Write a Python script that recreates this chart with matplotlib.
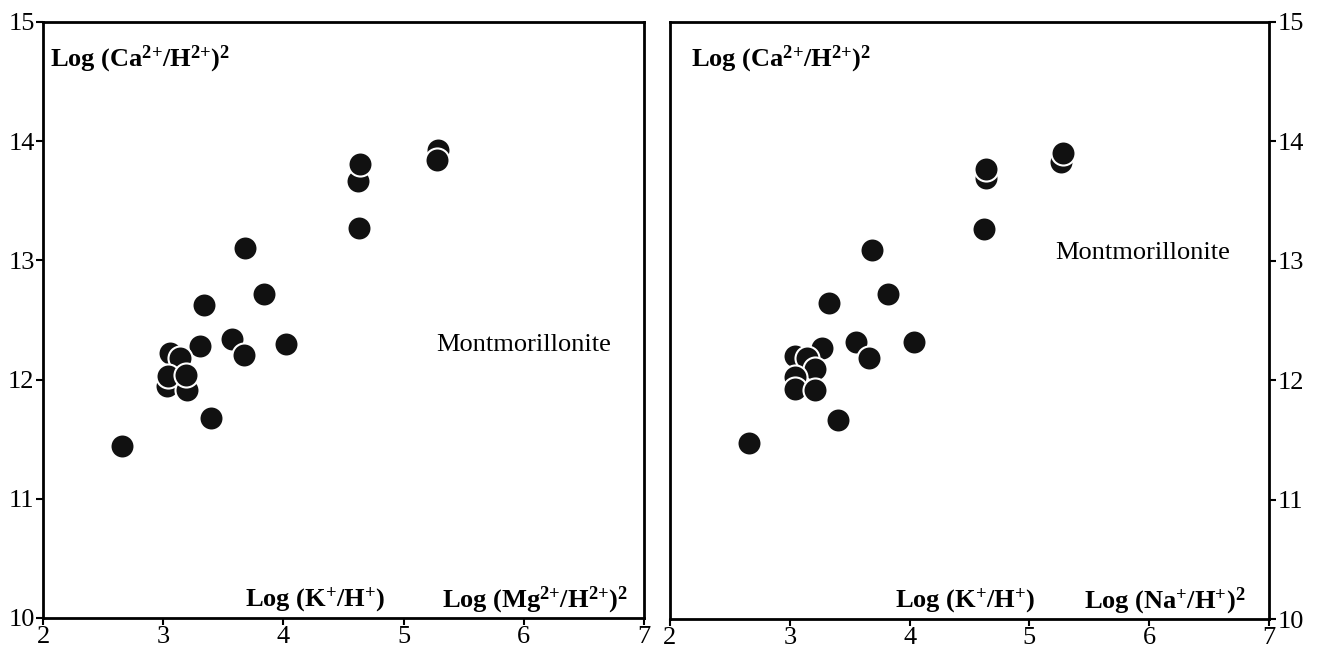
import matplotlib
matplotlib.use("Agg")
import matplotlib.pyplot as plt

plt.rcParams['font.family'] = ['Liberation Serif', 'DejaVu Serif']
plt.rcParams['mathtext.fontset'] = 'custom'
plt.rcParams['mathtext.rm'] = 'Liberation Serif'
plt.rcParams['mathtext.bf'] = 'Liberation Serif:bold'
plt.rcParams['mathtext.it'] = 'Liberation Serif:italic'

# Left panel: Log(K+/H+) vs Log(Ca2+/H2+)2  (Mg system)
left_x = [5.29, 5.28, 4.62, 4.64, 4.63, 3.68, 3.84, 3.34, 4.02, 3.57, 3.31, 3.67,
          3.06, 3.14, 3.03, 3.04, 3.20, 3.19, 3.40, 2.66]
left_y = [13.93, 13.84, 13.67, 13.81, 13.27, 13.10, 12.72, 12.63, 12.30, 12.34, 12.28, 12.21,
          12.22, 12.18, 11.95, 12.03, 11.91, 12.04, 11.68, 11.44]

# Right panel: Na system
right_x = [5.26, 5.28, 4.64, 4.64, 4.62, 3.69, 3.82, 3.33, 4.04, 3.55, 3.27, 3.66,
           3.04, 3.14, 3.21, 3.04, 3.04, 3.21, 3.40, 2.66]
right_y = [13.83, 13.90, 13.69, 13.77, 13.27, 13.09, 12.72, 12.65, 12.32, 12.32, 12.27, 12.19,
           12.20, 12.19, 12.09, 12.03, 11.93, 11.92, 11.67, 11.47]

x_ticks = [2, 3, 4, 5, 6, 7]
y_ticks = [10, 11, 12, 13, 14, 15]

ca_label = r'Log (Ca$^{\mathbf{2}\mathbf{+}}$/H$^{\mathbf{2}\mathbf{+}}$)$^{\mathbf{2}}$'
k_label = r'Log (K$^{\mathbf{+}}$/H$^{\mathbf{+}}$)'
mg_label = r'Log (Mg$^{\mathbf{2}\mathbf{+}}$/H$^{\mathbf{2}\mathbf{+}}$)$^{\mathbf{2}}$'
na_label = r'Log (Na$^{\mathbf{+}}$/H$^{\mathbf{+}}$)$^{\mathbf{2}}$'

fig = plt.figure(figsize=(13.17, 6.51), dpi=100)
ax1 = fig.add_axes([43 / 1317, 33 / 651, (644 - 43) / 1317, (618 - 22) / 651])
ax2 = fig.add_axes([670 / 1317, 32 / 651, (1269 - 670) / 1317, (619 - 22) / 651])


def style(ax, right=False):
    ax.set_xlim(2, 7)
    ax.set_ylim(10, 15)
    ax.set_xticks(x_ticks)
    ax.set_yticks(y_ticks)
    for s in ax.spines.values():
        s.set_linewidth(2)
    ax.tick_params(direction='out', length=5, width=1.5, labelsize=19, pad=1)
    if right:
        ax.yaxis.tick_right()


style(ax1)
style(ax2, right=True)

ax1.scatter(left_x, left_y, s=300, c='#111111', edgecolors='white', linewidths=1.5, zorder=3, clip_on=False)
ax2.scatter(right_x, right_y, s=300, c='#111111', edgecolors='white', linewidths=1.5, zorder=3, clip_on=False)

fs = 19
ax1.text(0.012, 0.938, ca_label, transform=ax1.transAxes, fontsize=fs, fontweight='bold', va='center')
ax1.text(0.336, 0.03, k_label, transform=ax1.transAxes, fontsize=fs, fontweight='bold', va='center')
ax1.text(0.664, 0.03, mg_label, transform=ax1.transAxes, fontsize=fs, fontweight='bold', va='center')
ax1.text(0.654, 0.458, 'Montmorillonite', transform=ax1.transAxes, fontsize=fs, va='center')

ax2.text(0.035, 0.938, ca_label, transform=ax2.transAxes, fontsize=fs, fontweight='bold', va='center')
ax2.text(0.376, 0.03, k_label, transform=ax2.transAxes, fontsize=fs, fontweight='bold', va='center')
ax2.text(0.691, 0.03, na_label, transform=ax2.transAxes, fontsize=fs, fontweight='bold', va='center')
ax2.text(0.643, 0.613, 'Montmorillonite', transform=ax2.transAxes, fontsize=fs, va='center')

fig.savefig('out.png', dpi=100)
